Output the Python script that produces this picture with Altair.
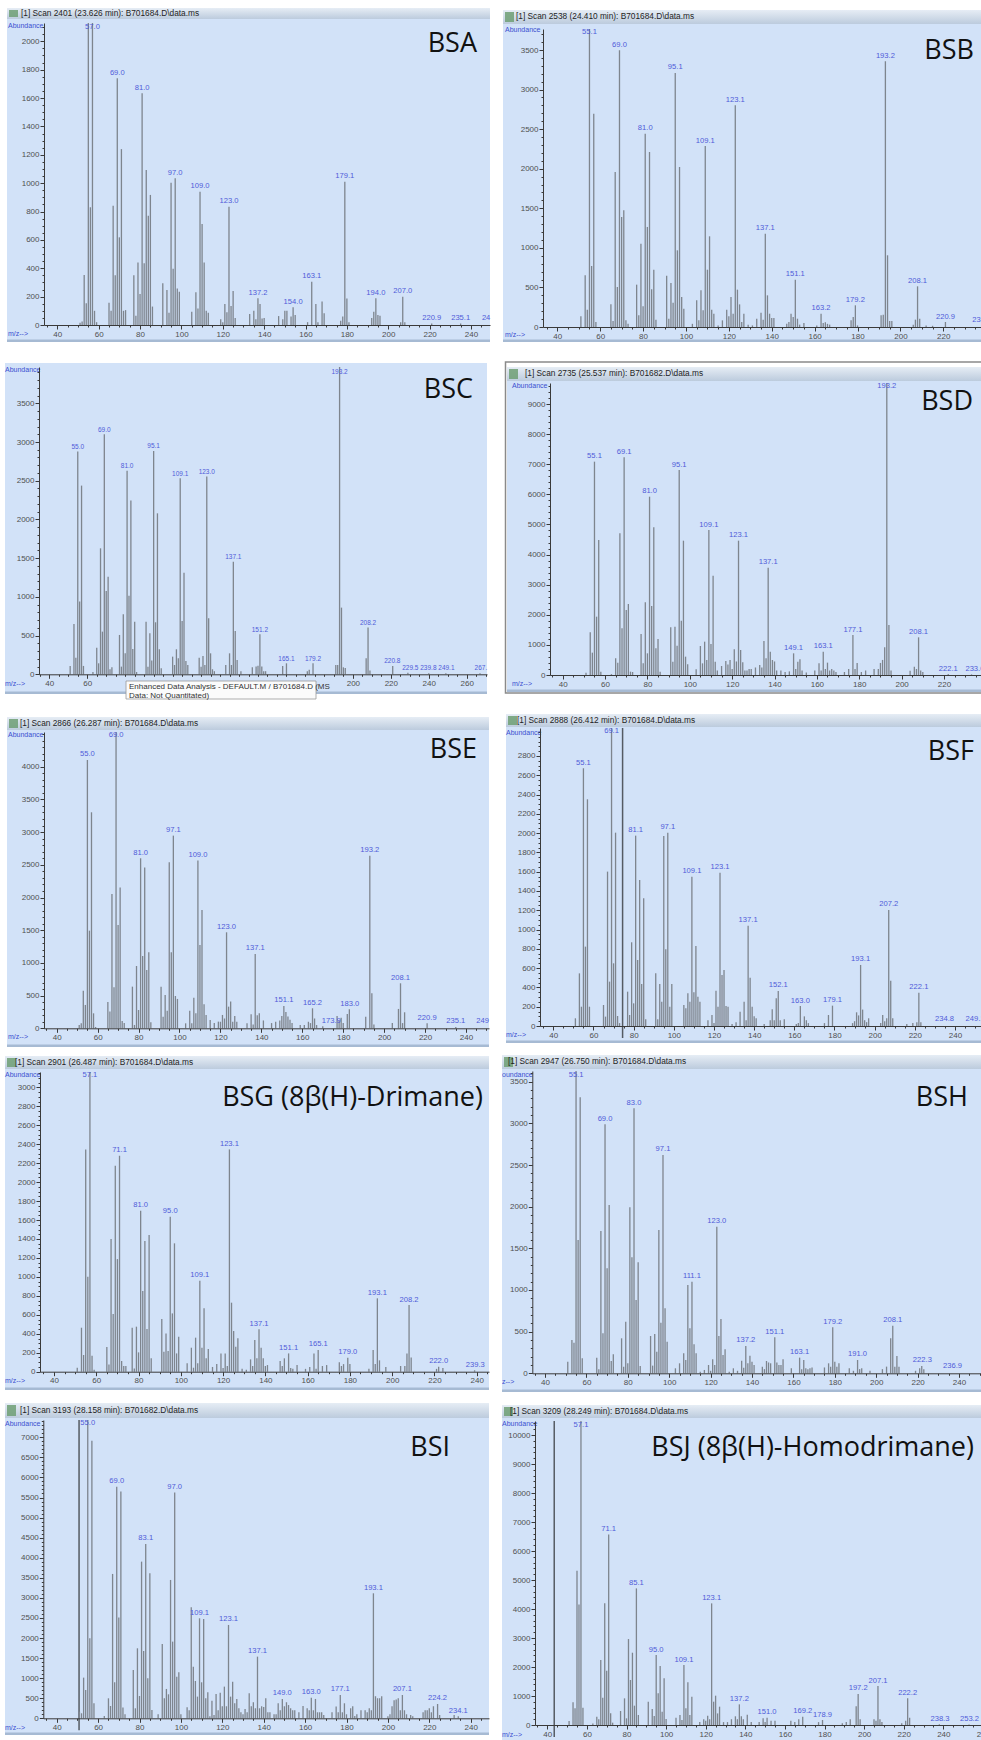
import altair as alt
import pandas as pd

W, H = 981, 1740

# ------------------------------------------------------------------ data
BSA_PEAKS = [(51,15),(52,25),(53,352),(54,153),(55,2400),(56,830),(57,2450),(58,100),(59,20),
    (65,157),(66,100),(67,841),(68,350),(69,1740),(70,618),(71,1240),(72,100),(73,105),
    (77,350),(78,66),(79,440),(80,219),(81,1633),(82,435),(83,1093),(84,771),(85,917),(86,130),
    (91,294),(93,247),(94,87),(95,1003),(96,397),(97,1034),(98,258),(99,235),
    (105,94),(107,230),(108,117),(109,940),(110,712),(111,440),(112,100),(113,87),
    (119,40),(120,20),(121,148),(122,90),(123,834),(124,134),(125,240),(126,50),
    (133,77),(135,100),(136,40),(137,188),(138,148),(139,45),(140,50),
    (147,63),(149,40),(150,100),(151,100),(153,60),(154,125),(155,70),
    (161,20),(163,305),(165,148),(166,20),(168,165),(169,82),
    (177,30),(178,60),(179,1010),(180,186),(181,20),
    (192,50),(193,94),(194,188),(195,70),(196,65),(206,20),(207,200),(208,20),(221,10),(235,10)]
BSA_LABELS = [("57.0",57,2450),("69.0",69,1740),("81.0",81,1633),("97.0",97,1034),("109.0",109,940),
    ("123.0",123,834),("137.2",137,188),("154.0",154,125),("163.1",163,305),("179.1",179,1010),
    ("194.0",194,188),("207.0",207,200),("220.9",221,12),("235.1",235,12),("24",247.3,12)]

BSB_PEAKS = [(51,135),(53,653),(54,219),(55,3900),(56,771),(57,2696),(58,63),
    (65,286),(66,76),(67,1959),(68,505),(69,3496),(70,1390),(71,1474),(72,84),(73,40),
    (77,535),(78,147),(79,1053),(80,261),(81,2443),(82,1264),(83,2211),(84,476),(85,724),(86,93),
    (91,649),(92,105),(93,556),(94,307),(95,3210),(96,969),(97,2022),(98,379),(99,232),
    (103,40),(105,337),(106,84),(107,463),(108,211),(109,2287),(110,724),(111,1146),(112,219),(113,168),
    (115,20),(117,84),(119,219),(120,135),(121,379),(122,168),(123,2801),(124,472),(125,286),(126,63),(127,168),
    (129,30),(131,20),(133,105),(135,181),(136,93),(137,1179),(138,400),(139,168),(140,114),(141,114),
    (147,42),(148,63),(149,168),(150,126),(151,598),(152,105),(153,30),(155,50),
    (161,20),(163,168),(164,50),(165,60),(166,40),(167,30),
    (177,84),(178,126),(179,274),(180,20),
    (191,147),(192,156),(193,3357),(194,906),(195,76),(196,76),
    (206,30),(207,93),(208,514),(209,105),(212,20),(215,15),(221,63)]
BSB_LABELS = [("55.1",55,3900),("69.0",69,3496),("81.0",81,2443),("95.1",95,3210),("109.1",109,2287),
    ("123.1",123,2801),("137.1",137,1179),("151.1",151,598),("163.2",163,168),("179.2",179,274),
    ("193.2",193,3357),("208.1",208,514),("220.9",221,63),("23",235.5,20)]

BSC_PEAKS = [(51,108),(53,650),(54,215),(55,2876),(56,939),(57,2437),(58,108),(63,30),
    (65,344),(66,142),(67,1627),(68,551),(69,3100),(70,1076),(71,1261),(72,65),(73,90),
    (77,508),(78,99),(79,775),(80,271),(81,2630),(82,1016),(83,2243),(84,327),(85,680),(86,30),
    (91,680),(92,99),(93,530),(94,177),(95,2884),(96,672),(97,2079),(98,323),(99,77),
    (105,228),(106,120),(107,323),(108,207),(109,2531),(110,689),(111,1313),(112,172),(113,120),
    (119,215),(120,99),(121,237),(122,120),(123,2553),(124,723),(125,271),(126,65),(127,40),
    (133,120),(135,271),(136,120),(137,1455),(138,560),(139,185),(141,40),
    (147,90),(149,100),(150,110),(151,517),(152,100),(153,40),(154,40),
    (163,108),(165,142),(176,40),(177,60),(179,142),
    (191,120),(192,120),(193,4300),(194,861),(195,90),(196,80),
    (207,207),(208,603),(209,50),(221,108),(229,20),(240,15),(249,15),(267,15)]
BSC_LABELS = [("55.0",55,2876),("69.0",69,3100),("81.0",81,2630),("95.1",95,2884),("109.1",109,2531),
    ("123.0",123,2553),("137.1",137,1455),("151.2",151,517),("165.1",165,142),("179.2",179,142),
    ("193.2",193,4300),("208.2",208,603),("220.8",220.8,108),("229.5",230.3,20),("239.8",239.8,20),
    ("249.1",249.3,20),("267.",267.5,20)]

BSD_PEAKS = [(51,77),(53,1417),(54,742),(55,7085),(56,1937),(57,4483),(58,111),(63,30),
    (65,554),(66,410),(67,4705),(68,1550),(69,7229),(70,2159),(71,2358),(72,111),(73,100),
    (77,1362),(78,387),(79,2413),(80,720),(81,5922),(82,2291),(83,4904),(84,886),(85,1196),(86,111),
    (91,1583),(92,443),(93,1605),(94,974),(95,6808),(96,1804),(97,4461),(98,609),(99,354),
    (103,188),(105,963),(106,387),(107,1107),(108,498),(109,4815),(110,1030),(111,3299),(112,443),(113,150),
    (115,299),(117,465),(118,350),(119,498),(120,200),(121,852),(122,450),(123,4461),(124,830),(125,421),
    (126,150),(127,150),(128,200),(129,200),(131,250),
    (133,332),(134,250),(135,1129),(136,554),(137,3565),(138,775),(139,498),(140,450),(141,150),(143,150),(145,100),
    (147,120),(149,720),(150,200),(151,443),(152,520),(153,150),(155,80),
    (159,150),(161,387),(162,150),(163,775),(164,200),(165,410),(166,150),(167,200),(168,150),(169,100),
    (173,100),(175,200),(177,1328),(178,200),(179,400),(181,100),(183,150),
    (187,200),(189,200),(190,400),(191,500),(192,919),(193,10500),(194,1660),(195,150),
    (204,144),(206,277),(207,200),(208,1251),(209,150),(210,100),(222,30),(233,20)]
BSD_LABELS = [("55.1",55,7085),("69.1",69,7229),("81.0",81,5922),("95.1",95,6808),("109.1",109,4815),
    ("123.1",123,4461),("137.1",137,3565),("149.1",149,720),("163.1",163,775),("177.1",177,1328),
    ("193.2",193,10500),("208.1",208,1251),("222.1",222,30),("233.0",234.6,20)]

BSE_PEAKS = [(51,51),(52,76),(53,576),(54,357),(55,4103),(56,1493),(57,3303),(58,229),(59,20),
    (65,403),(66,255),(67,2054),(68,627),(69,4800),(70,1580),(71,2151),(72,112),(73,80),
    (77,637),(78,51),(79,953),(80,280),(81,2600),(82,1106),(83,2457),(84,892),(85,1162),(86,92),
    (91,637),(92,178),(93,510),(94,270),(95,2538),(96,1162),(97,2946),(98,494),(99,449),
    (103,76),(105,270),(106,76),(107,469),(108,229),(109,2564),(110,1274),(111,1809),(112,367),(113,204),
    (115,127),(117,80),(119,102),(120,100),(121,204),(122,150),(123,1468),(124,331),(125,408),(126,100),(127,189),(128,100),
    (133,76),(135,214),(136,60),(137,1137),(138,200),(139,229),(141,120),
    (145,80),(147,100),(149,120),(150,189),(151,341),(152,250),(153,180),(154,130),(155,80),
    (159,50),(161,50),(163,100),(164,80),(165,306),(166,150),(167,50),
    (170,30),(177,189),(178,120),(179,160),(180,80),(182,220),(183,290),
    (191,178),(193,2640),(194,535),(195,60),
    (204,80),(207,296),(208,688),(209,80),(210,245),(221,76),(235,20)]
BSE_LABELS = [("55.0",55,4103),("69.0",69,4800),("81.0",81,2600),("97.1",97,2946),("109.0",109,2564),
    ("123.0",123,1468),("137.1",137,1137),("151.1",151,341),("165.2",165,306),("173.9",174.2,20),
    ("183.0",183.2,290),("193.2",193,2640),("208.1",208,688),("220.9",221,76),("235.1",235,20),("249",248.1,20)]

BSF_PEAKS = [(51,80),(53,546),(54,200),(55,2672),(56,823),(57,2351),(58,200),
    (65,218),(66,97),(67,1601),(68,460),(69,3300),(70,650),(71,2005),(72,104),(73,30),
    (77,356),(78,114),(79,868),(80,235),(81,1974),(82,685),(83,1514),(84,436),(85,1324),(86,69),
    (91,546),(92,69),(93,436),(94,252),(95,1970),(96,795),(97,2005),(98,200),(99,436),
    (105,218),(106,183),(107,339),(108,252),(109,1549),(110,349),(111,830),(112,304),(113,252),
    (117,60),(119,114),(120,30),(121,366),(122,200),(123,1590),(124,529),(125,581),(126,208),(127,200),
    (129,20),(131,40),(133,149),(135,252),(136,60),(137,1040),(138,501),(139,200),(140,100),(141,80),
    (145,20),(148,60),(149,173),(150,60),(151,287),(152,363),(153,60),(155,70),
    (161,20),(162,30),(163,207),(165,100),(166,60),(167,30),
    (175,30),(177,114),(179,211),
    (189,30),(190,50),(191,142),(192,110),(193,633),(194,170),(195,60),(196,40),(197,80),
    (203,30),(204,114),(205,50),(206,80),(207,1203),(208,470),(209,80),
    (216,20),(219,30),(221,40),(222,346),(223,40)]
BSF_LABELS = [("55.1",55,2672),("69.1",69,3300),("81.1",81,1974),("97.1",97,2005),("109.1",109,1549),
    ("123.1",123,1590),("137.1",137,1040),("152.1",152,363),("163.0",163,207),("179.1",179,211),
    ("193.1",193,633),("207.2",207,1203),("222.1",222,346),("234.8",234.8,20),("249.1",250,20)]

BSG_PEAKS = [(51,42),(53,464),(54,176),(55,2345),(56,1002),(57,3400),(58,169),(59,20),
    (65,260),(66,77),(67,1399),(68,608),(69,2173),(70,1188),(71,2278),(72,113),(73,60),(74,60),
    (77,464),(78,35),(79,475),(80,204),(81,1698),(82,851),(83,1378),(84,450),(85,1442),(86,141),
    (91,556),(92,211),(93,404),(94,218),(95,1635),(96,615),(97,1354),(98,193),(99,369),
    (103,88),(105,253),(106,42),(107,359),(108,88),(109,960),(110,253),(111,668),(112,141),(113,239),
    (115,50),(117,80),(119,193),(120,40),(121,193),(122,60),(123,2345),(124,728),(125,429),(126,264),(127,352),
    (129,30),(131,20),(133,130),(134,60),(135,334),(136,141),(137,447),(138,253),(139,141),(140,60),(141,70),
    (147,113),(148,60),(149,141),(151,193),(152,40),(153,30),(155,70),
    (159,30),(161,50),(163,193),(164,30),(165,229),(167,60),(169,70),
    (175,100),(176,60),(177,80),(179,148),(180,80),
    (189,30),(191,229),(192,80),(193,774),(194,120),(197,50),
    (204,60),(206,60),(207,193),(208,703),(209,150),(221,30),(222,53),(224,40),(239,15)]
BSG_LABELS = [("57.1",57,3400),("71.1",71,2278),("81.0",81,1698),("95.0",95,1635),("109.1",109,960),
    ("123.1",123,2345),("137.1",137,447),("151.1",151,193),("165.1",165,229),("179.0",179,148),
    ("193.1",193,774),("208.2",208,703),("222.0",222,53),("239.3",239.3,15)]

BSH_PEAKS = [(51,140),(53,400),(54,368),(55,3900),(56,1600),(57,3313),(58,180),
    (65,188),(66,48),(67,1708),(68,480),(69,2989),(70,1260),(71,2020),(72,148),(73,228),
    (77,420),(78,80),(79,620),(80,120),(81,1992),(82,1392),(83,3181),(84,880),(85,1332),(86,88),
    (91,448),(92,92),(93,472),(94,260),(95,1720),(96,608),(97,2621),(98,780),(99,380),
    (103,60),(105,120),(107,240),(108,160),(109,1060),(110,540),(111,1100),(112,348),(113,240),
    (115,20),(117,40),(119,100),(120,30),(121,168),(122,100),(123,1760),(124,448),(125,652),(126,220),(127,288),
    (129,20),(131,60),(133,30),(135,152),(136,68),(137,328),(138,120),(139,212),(140,140),(141,100),
    (145,80),(146,50),(147,148),(148,130),(149,120),(151,432),(152,130),(153,100),(154,100),(155,170),
    (159,60),(163,188),(164,50),(165,160),(166,60),(167,50),(168,60),(169,70),
    (175,70),(177,120),(178,80),(179,552),(180,140),(181,80),(182,120),
    (187,60),(189,30),(191,160),(192,50),(193,60),
    (197,30),(203,50),(205,80),(207,420),(208,572),(209,80),(210,208),(211,80),
    (219,30),(221,60),(222,88),(223,50)]
BSH_LABELS = [("55.1",55,3900),("69.0",69,2989),("83.0",83,3181),("97.1",97,2621),("111.1",111,1100),
    ("123.0",123,1760),("137.2",137,328),("151.1",151,432),("163.1",163,188),("179.2",179,552),
    ("191.0",191,160),("208.1",208,572),("222.3",222.3,88),("236.9",236.9,20)]

BSI_PEAKS = [(51,166),(52,125),(53,1013),(54,706),(55,7600),(56,1993),(57,6917),(58,374),(63,60),
    (65,498),(66,307),(67,3596),(68,897),(69,5771),(70,2508),(71,5647),(72,266),(73,100),
    (77,1204),(78,249),(79,1744),(80,556),(81,3903),(82,1677),(83,4343),(84,996),(85,3612),(86,208),
    (89,100),(91,1852),(92,498),(93,731),(94,598),(95,3446),(96,1910),(97,5622),(98,1038),(99,1146),(100,100),
    (103,274),(104,200),(105,2765),(106,1287),(107,930),(108,540),(109,2491),(110,897),(111,2475),(112,498),(113,648),
    (114,50),(115,440),(116,80),(117,606),(118,200),(119,639),(120,300),(121,789),(122,300),(123,2325),(124,540),
    (125,913),(126,374),(127,482),(128,250),(129,150),(130,100),(131,230),(132,150),
    (133,623),(134,300),(135,399),(136,250),(137,1536),(138,250),(139,300),(140,280),(141,498),(142,150),(143,150),
    (145,100),(146,100),
    (147,374),(148,200),(149,482),(150,300),(151,400),(152,330),(153,250),(154,200),(155,200),(157,150),
    (159,307),(161,250),(162,200),(163,515),(164,200),(165,482),(166,150),(167,150),(168,150),(169,80),
    (173,150),(175,291),(176,150),(177,581),(178,150),(179,374),(180,100),(182,250),(183,300),(184,60),(185,100),
    (187,200),(189,200),(190,150),(191,250),(192,200),(193,3114),(194,550),(195,500),(196,500),(197,550),
    (200,50),(201,100),(202,300),(203,450),(204,470),(205,498),(206,200),(207,581),(208,200),(209,100),
    (211,80),(212,50),
    (217,150),(218,200),(219,200),(220,250),(221,150),(222,300),(224,357),(225,80),(232,80),(234,50)]
BSI_LABELS = [("55.0",55,7600),("69.0",69,5771),("83.1",83,4343),("97.0",97,5622),("109.1",109,2491),
    ("123.1",123,2325),("137.1",137,1536),("149.0",149,482),("163.0",163,515),("177.1",177,581),
    ("193.1",193,3114),("207.1",207,581),("224.2",224,357),("234.1",234,50)]

BSJ_PEAKS = [(51,138),(53,781),(54,575),(55,5320),(56,4159),(57,11000),(58,598),(63,50),
    (65,287),(66,200),(67,2241),(68,942),(69,4194),(70,1873),(71,6572),(72,402),(73,80),
    (77,483),(79,919),(80,230),(81,2964),(82,1551),(83,2493),(84,666),(85,4711),(86,345),
    (91,804),(93,552),(94,310),(95,2413),(96,1092),(97,2034),(98,460),(99,1609),(100,207),
    (105,253),(107,345),(108,172),(109,2068),(110,575),(111,1471),(112,345),(113,977),
    (117,100),(119,200),(120,150),(121,322),(122,200),(123,4194),(124,804),(125,1011),(126,400),(127,632),
    (129,100),(131,100),(133,200),(135,300),(136,200),(137,712),(138,300),(139,200),(141,350),(143,100),
    (147,100),(149,230),(150,100),(151,250),(153,150),(155,150),
    (163,150),(165,100),(167,200),(169,287),(177,100),(179,172),
    (189,60),(191,100),(193,200),(196,650),(197,1069),(198,200),
    (205,200),(206,150),(207,1344),(208,200),(209,100),
    (219,60),(221,150),(222,919),(223,250),(238,30),(253,20)]
BSJ_LABELS = [("57.1",57,11000),("71.1",71,6572),("85.1",85,4711),("95.0",95,2413),("109.1",109,2068),
    ("123.1",123,4194),("137.2",137,712),("151.0",151,250),("169.2",169,287),("178.9",179,172),
    ("197.2",197,1069),("207.1",207,1344),("222.2",222,919),("238.3",238.3,30),("253.2",253.2,20)]

PEAKS = {"BSA": BSA_PEAKS, "BSB": BSB_PEAKS, "BSC": BSC_PEAKS, "BSD": BSD_PEAKS, "BSE": BSE_PEAKS,
         "BSF": BSF_PEAKS, "BSG": BSG_PEAKS, "BSH": BSH_PEAKS, "BSI": BSI_PEAKS, "BSJ": BSJ_PEAKS}
LABELS = {"BSA": BSA_LABELS, "BSB": BSB_LABELS, "BSC": BSC_LABELS, "BSD": BSD_LABELS, "BSE": BSE_LABELS,
          "BSF": BSF_LABELS, "BSG": BSG_LABELS, "BSH": BSH_LABELS, "BSI": BSI_LABELS, "BSJ": BSJ_LABELS}
CURSORS = {"BSF": 74.5, "BSI": 50.8, "BSJ": 43.5}

NAMES = {"BSA": "BSA", "BSB": "BSB", "BSC": "BSC", "BSD": "BSD", "BSE": "BSE", "BSF": "BSF",
         "BSG": "BSG (8β(H)-Drimane)", "BSH": "BSH", "BSI": "BSI", "BSJ": "BSJ (8β(H)-Homodrimane)"}
TITLES = {"BSA": "[1] Scan 2401 (23.626 min): B701684.D\\data.ms",
          "BSB": "[1] Scan 2538 (24.410 min): B701684.D\\data.ms",
          "BSD": "[1] Scan 2735 (25.537 min): B701682.D\\data.ms",
          "BSE": "[1] Scan 2866 (26.287 min): B701684.D\\data.ms",
          "BSF": "[1] Scan 2888 (26.412 min): B701684.D\\data.ms",
          "BSG": "[1] Scan 2901 (26.487 min): B701684.D\\data.ms",
          "BSH": "[1] Scan 2947 (26.750 min): B701684.D\\data.ms",
          "BSI": "[1] Scan 3193 (28.158 min): B701682.D\\data.ms",
          "BSJ": "[1] Scan 3209 (28.249 min): B701684.D\\data.ms"}
ABUND_TEXT = {"BSH": "oundance"}
MZ_TEXT = {"BSH": "z-->"}
TOOLTIP_LINES = ["Enhanced Data Analysis - DEFAULT.M / B701684.D    (MS", "Data: Not Quantitated)"]

# highest labelled abundance tick where the instrument stops labelling, and x labels hidden by the tooltip
YLAB_MAX = {"BSE": 4000, "BSF": 2800}
XLAB_HIDDEN = {"BSC": [80, 100, 120, 140, 160, 180]}

# ------------------------------------------------------------------ layout (pixels)
LAYOUT = {
    "BSA": dict(x40=57.3, xppu=2.0685, vl=44, vr=490, base=325, yppu=0.14185, top=23, major=200, minor=50,
                bg=(7, 19, 490, 342), bar=(7, 8, 490, 19), tx=(21, 13.5), ab=(8, 25.5), mzt=(8, 333.5), big=(477, 52)),
    "BSB": dict(x40=557.3, xppu=2.1444, vl=543, vr=1000, base=327, yppu=0.07914, top=29, major=500, minor=100,
                bg=(503, 24, 1000, 342), bar=(503, 10, 1000, 24), tx=(516, 17), ab=(505, 29.5), mzt=(505, 335), big=(974, 59)),
    "BSC": dict(x40=49.3, xppu=1.8973, vl=39, vr=487, base=674.3, yppu=0.07743, top=367, major=500, minor=100,
                bg=(5, 363, 487, 694), bar=None, tx=None, ab=(5, 369.5), mzt=(5, 683.5), big=(473, 398)),
    "BSD": dict(x40=562.7, xppu=2.1183, vl=550, vr=1000, base=675, yppu=0.030111, top=383, major=1000, minor=200,
                bg=(507, 381, 1000, 692), bar=(507, 367, 1000, 381), tx=(525, 373.5), ab=(512, 385.5), mzt=(512, 683.5), big=(973, 410)),
    "BSE": dict(x40=56.7, xppu=2.0465, vl=44, vr=489, base=1028.3, yppu=0.0654, top=732, major=500, minor=100,
                bg=(7, 730, 489, 1047), bar=(7, 717, 489, 730), tx=(20, 723.5), ab=(8, 735), mzt=(8, 1037), big=(477, 758)),
    "BSF": dict(x40=553.3, xppu=2.0085, vl=540, vr=1000, base=1026, yppu=0.096429, top=728, major=200, minor=50,
                bg=(506, 727, 1000, 1043), bar=(506, 714, 1000, 727), tx=(517, 720.5), ab=(506, 732.5), mzt=(506, 1035), big=(974, 760)),
    "BSG": dict(x40=54, xppu=2.1135, vl=40, vr=489, base=1371.7, yppu=0.0948, top=1072, major=200, minor=50,
                bg=(5, 1069, 489, 1390), bar=(5, 1056, 489, 1069), tx=(15, 1062.5), ab=(5, 1075), mzt=(5, 1381), big=(483, 1106)),
    "BSH": dict(x40=545, xppu=2.07, vl=532.3, vr=1000, base=1373.3, yppu=0.08331, top=1071, major=500, minor=100,
                bg=(502, 1069, 1000, 1392), bar=(502, 1055, 1000, 1069), tx=(508, 1062), ab=(502, 1074.5), mzt=(502, 1382), big=(968, 1106)),
    "BSI": dict(x40=56.7, xppu=2.07, vl=43.3, vr=489, base=1718.3, yppu=0.040143, top=1420, major=500, minor=100,
                bg=(5, 1418, 489, 1735), bar=(5, 1403, 489, 1418), tx=(20, 1410.5), ab=(5, 1423.5), mzt=(5, 1727.5), big=(450, 1456)),
    "BSJ": dict(x40=547.3, xppu=1.98, vl=535, vr=1000, base=1725, yppu=0.029, top=1421, major=1000, minor=200,
                bg=(502, 1418, 1000, 1745), bar=(502, 1405, 1000, 1418), tx=(510, 1411.5), ab=(502, 1424), mzt=(502, 1735), big=(974, 1456)),
}
KEYS = ["BSA", "BSB", "BSC", "BSD", "BSE", "BSF", "BSG", "BSH", "BSI", "BSJ"]
LABEL_FONT_SIZE = {"BSC": 6.5}
XLABEL_PX_LIMIT = 984  # tick labels centred further right fall off the page in the reference

PANEL_BG = "#d2e2f8"
BAR_COLOR = "#7e858e"
LABEL_BLUE = "#4f5bd8"
AXIS_COMMON = dict(grid=False, title=None, zindex=1, domainColor="#3a3a3a", tickColor="#3a3a3a",
                   labelColor="#505050", labelFont="Liberation Sans", labelFontSize=8, labelOverlap=False,
                   labelFlush=False, labelPadding=1, tickWidth=1, domainWidth=1, format="d")


def px(field):
    return dict(field=field, type="quantitative", scale=None, axis=None)


def panel_layers(key):
    L = LAYOUT[key]
    ymax = (L["base"] - L["top"]) / L["yppu"]
    xd0 = 40 - (L["x40"] - L["vl"]) / L["xppu"]
    xd1 = 40 + (L["vr"] - L["x40"]) / L["xppu"]
    xs = alt.Scale(domain=[xd0, xd1], range=[L["vl"], L["vr"]], nice=False, zero=False)
    ys = alt.Scale(domain=[0, ymax], range=[L["base"], L["top"]], nice=False, zero=False, clamp=True)
    maj = L["major"]
    hidden = list(XLAB_HIDDEN.get(key, []))
    for v in range(0, 300, 20):
        if L["x40"] + (v - 40) * L["xppu"] > XLABEL_PX_LIMIT:
            hidden.append(v)
    ylab_top = YLAB_MAX.get(key, ymax)
    x_ticks_major = [v for v in range(0, 300, 20) if xd0 <= v <= xd1]
    x_major = [v for v in x_ticks_major if v not in hidden]
    x_minor = [v for v in range(0, 300, 5) if xd0 <= v <= xd1 and (v % 20 or v in hidden)]
    y_major = [v for v in range(0, int(ymax) + 1, maj) if v <= ylab_top]
    y_minor = [v for v in range(0, int(ymax) + 1, L["minor"]) if v not in y_major]
    xoff = L["base"] - H
    yoff = -L["vl"]
    ax_x_major = alt.Axis(orient="bottom", offset=xoff, values=x_major, tickSize=4, **AXIS_COMMON)
    ax_y_major = alt.Axis(orient="left", offset=yoff, values=y_major, tickSize=4, **AXIS_COMMON)
    ax_x_minor = alt.Axis(orient="bottom", offset=xoff, values=x_minor, tickSize=2, labels=False,
                          domain=False, grid=False, title=None, zindex=1, tickColor="#3a3a3a", tickWidth=1)
    ax_y_minor = alt.Axis(orient="left", offset=yoff, values=y_minor, tickSize=2, labels=False,
                          domain=False, grid=False, title=None, zindex=1, tickColor="#3a3a3a", tickWidth=1)

    pk = pd.DataFrame(PEAKS[key], columns=["mz", "ab"])
    bars = alt.Chart(pk).mark_rule(color=BAR_COLOR, strokeWidth=1.3).encode(
        x=alt.X("mz:Q", scale=xs, axis=ax_x_major),
        y=alt.Y("ab:Q", scale=ys, axis=ax_y_major),
        y2=alt.datum(0))

    lab = pd.DataFrame(LABELS[key], columns=["text", "mz", "ab"])
    lab["ly"] = lab["ab"].clip(upper=ymax * 0.97)
    labels = alt.Chart(lab).mark_text(font="Liberation Sans", fontSize=LABEL_FONT_SIZE.get(key, 7.6),
                                      color=LABEL_BLUE, baseline="bottom", dy=-1.5).encode(
        x=alt.X("mz:Q", scale=xs, axis=ax_x_minor),
        y=alt.Y("ly:Q", scale=ys, axis=ax_y_minor),
        text="text:N")
    layers = [bars, labels]
    if key in CURSORS:
        cdf = pd.DataFrame({"mz": [CURSORS[key]]})
        cur = alt.Chart(cdf).mark_rule(color="#555b63", strokeWidth=1.5).encode(
            x=alt.X("mz:Q", scale=xs, axis=None),
            y=alt.value(L["top"]), y2=alt.value(L["base"] + 12))
        layers.insert(0, cur)
    return layers


# decoration tables
bg_rows, strip_rows, tbar_rows, icon_rows, ttext_rows, big_rows, small_rows = [], [], [], [], [], [], []
for k in KEYS:
    L = LAYOUT[k]
    x1, y1, x2, y2 = L["bg"]
    bg_rows.append(dict(x=x1, x2=x2, y=y1, y2=y2))
    strip_rows.append(dict(x=x1, x2=x2, y=y2 - 2.5, y2=y2))
    if L["bar"]:
        bx1, by1, bx2, by2 = L["bar"]
        tbar_rows.append(dict(x=bx1, x2=bx2, y=by1, y2=by2))
        icon_rows.append(dict(x=bx1 + 2, x2=bx1 + 11, y=by1 + 2, y2=by2 - 2))
        ttext_rows.append(dict(x=L["tx"][0], y=L["tx"][1], text=TITLES[k]))
    big_rows.append(dict(x=L["big"][0], y=L["big"][1], text=NAMES[k]))
    small_rows.append(dict(x=L["ab"][0], y=L["ab"][1], text=ABUND_TEXT.get(k, "Abundance")))
    small_rows.append(dict(x=L["mzt"][0], y=L["mzt"][1], text=MZ_TEXT.get(k, "m/z-->")))


def rects(rows, **mk):
    return alt.Chart(pd.DataFrame(rows)).mark_rect(**mk).encode(
        x=alt.X(**px("x")), x2="x2:Q", y=alt.Y(**px("y")), y2="y2:Q")


def texts(rows, **mk):
    return alt.Chart(pd.DataFrame(rows)).mark_text(**mk).encode(
        x=alt.X(**px("x")), y=alt.Y(**px("y")), text="text:N")


title_grad = alt.Gradient(gradient="linear", x1=0, y1=0, x2=0, y2=1,
                          stops=[alt.GradientStop(color="#e6edf5", offset=0),
                                 alt.GradientStop(color="#bccbdd", offset=1)])

bg_layer = rects(bg_rows, fill=PANEL_BG)
strip_layer = rects(strip_rows, fill="#a6bad3")
tbar_layer = rects(tbar_rows, fill=title_grad)
icon_layer = rects(icon_rows, fill="#6f9f74", opacity=0.85)
frame_layer = rects([dict(x=505.5, x2=1000, y=362, y2=693)], fill="transparent", stroke="#8a8a8a", strokeWidth=1.5)
tip_box = rects([dict(x=126, x2=316, y=681, y2=699)], fill="#fbfbfb", stroke="#9a9a9a", strokeWidth=0.8)
tip_text = texts([dict(x=129, y=686.5, text=TOOLTIP_LINES[0]), dict(x=129, y=696, text=TOOLTIP_LINES[1])],
                 align="left", baseline="middle", font="Liberation Sans", fontSize=8, color="#333333")
ttext_layer = texts(ttext_rows, align="left", baseline="middle", font="Liberation Sans", fontSize=8.3, color="#1e1e1e")
small_layer = texts(small_rows, align="left", baseline="middle", font="Liberation Sans", fontSize=7, color="#3b4fd0")
big_layer = texts(big_rows, align="right", baseline="alphabetic", font="Open Sans", fontSize=27, color="#111111")

panel_list = []
for k in KEYS:
    panel_list.extend(panel_layers(k))

chart = alt.layer(
    frame_layer, bg_layer, strip_layer, tbar_layer, icon_layer,
    *panel_list,
    ttext_layer, small_layer, big_layer, tip_box, tip_text,
).resolve_scale(x="independent", y="independent").resolve_axis(x="independent", y="independent").properties(
    width=W, height=H, padding=0, autosize=alt.AutoSizeParams(type="none"), background="white"
).configure_view(strokeWidth=0)

chart.save("out.html", embed_options={"renderer": "svg", "actions": False})
